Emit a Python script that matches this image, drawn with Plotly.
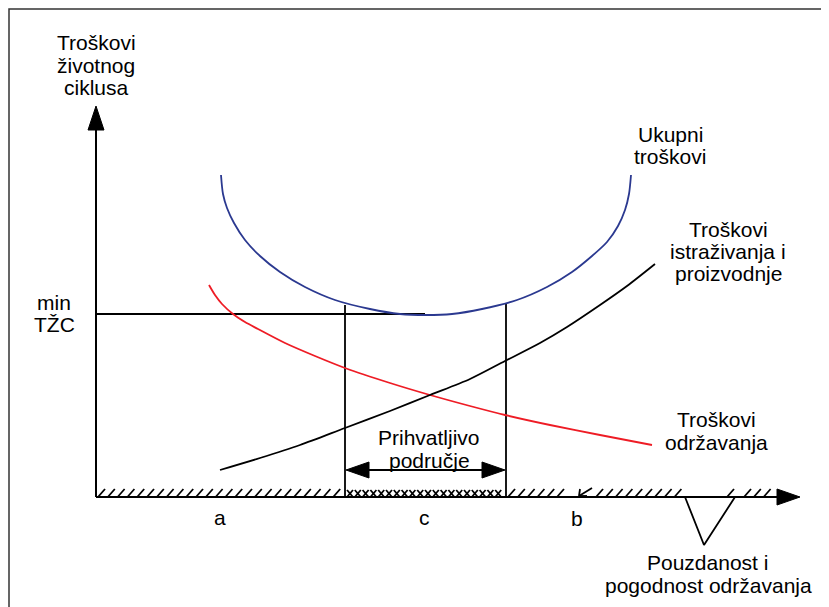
import plotly.graph_objects as go

# ---- data (diagram coordinates in page pixels: x to the right, y downward) ----
total_x = [221, 223, 227, 234, 245, 260, 280, 305, 335, 370, 400, 426, 452, 482, 517, 547, 572, 592, 607, 618, 625, 629, 631]
total_y = [175, 194, 208, 223, 240, 256, 272, 287, 300, 309, 314, 315, 314, 309, 300, 287, 272, 256, 242, 226, 210, 194, 175]

maint_x = [209, 215, 222, 233, 245, 258, 285, 315, 345, 390, 430, 470, 505, 550, 600, 652]
maint_y = [285, 295, 304, 314, 322, 329, 343, 356, 368, 383, 395, 406, 415, 425, 435, 445]

rnd_x = [220, 260, 300, 345, 390, 430, 470, 505, 540, 567, 600, 627, 655]
rnd_y = [470, 458, 445, 428, 411, 395, 379, 361, 343, 327, 305, 286, 264]

min_cost_y = 314
accept_left, accept_right = 345, 506
axis_y = 497
axis_x0 = 96

label_texts = ["Troškovi", "životnog", "ciklusa",
               "Ukupni", "troškovi",
               "Troškovi", "istraživanja i", "proizvodnje",
               "Troškovi", "održavanja",
               "Pouzdanost i", "pogodnost održavanja",
               "min", "TŽC",
               "Prihvatljivo", "područje",
               "a", "c", "b"]
label_x = [96, 96, 96,
           670, 670,
           728, 728, 728,
           716, 716,
           707, 708,
           54, 54,
           429, 429,
           220, 424, 577]
label_y = [42, 65, 87,
           134, 156,
           229, 251, 273,
           419, 442,
           562, 585,
           302, 324,
           437, 460,
           517, 517, 518]

FONT = "Liberation Sans, Arial, sans-serif"
PAGE_OFFSET = 8  # default body margin of the html page

fig = go.Figure()

def seg_trace(xs, ys, color="black", width=2):
    fig.add_trace(go.Scatter(x=xs, y=ys, mode="lines", hoverinfo="skip",
                             line=dict(color=color, width=width), showlegend=False))

def tri(xs, ys):
    fig.add_trace(go.Scatter(x=xs + [xs[0]], y=ys + [ys[0]], mode="lines", fill="toself",
                             fillcolor="black", line=dict(color="black", width=1),
                             hoverinfo="skip", showlegend=False))

# frame (only left/top visible)
seg_trace([9, 9, 840], [620, 9, 9], color="#333", width=1.5)

# axes
seg_trace([axis_x0, axis_x0], [axis_y, 126])
tri([88, 104, 96], [130, 130, 106])
seg_trace([axis_x0, 780], [axis_y, axis_y])
tri([777, 777, 800], [489, 505, 497])

# hatching along x axis
hx, hy = [], []
def slashes(x0, x1, step=9.8):
    x = x0
    while x <= x1:
        hx.extend([x, x + 7, None]); hy.extend([axis_y, axis_y - 8, None])
        x += step
slashes(98, 338)
slashes(508, 560)
slashes(596, 678)
slashes(727, 729)
slashes(744, 770)
# cross-hatch in acceptable region
x = 347
while x <= 498:
    hx.extend([x, x + 6, None, x, x + 6, None]); hy.extend([axis_y, axis_y - 7, None, axis_y - 7, axis_y, None])
    x += 7.8
# small "b" marker
hx.extend([592, 579, None, 579, 580, None, 579, 587, None])
hy.extend([488, 496, None, 496, 489, None, 496, 496, None])
seg_trace(hx, hy, width=1.8)

# triangle under axis
seg_trace([685, 704, 735], [axis_y, 545, axis_y], width=1.8)

# min TZC line and acceptable region verticals
seg_trace([axis_x0, 425], [min_cost_y, min_cost_y], width=1.8)
seg_trace([accept_left, accept_left], [305, axis_y], width=1.8)
seg_trace([accept_right, accept_right], [303, axis_y], width=1.8)

# double arrow
seg_trace([accept_left + 10, accept_right - 10], [470, 470], width=1.8)
tri([accept_left + 1, accept_left + 24, accept_left + 24], [470, 462, 478])
tri([accept_right - 1, accept_right - 24, accept_right - 24], [470, 462, 478])

# curves
fig.add_trace(go.Scatter(x=maint_x, y=maint_y, mode="lines",
                         line=dict(color="#ee1c25", width=1.8, shape="spline", smoothing=0.8),
                         hoverinfo="skip", showlegend=False))
fig.add_trace(go.Scatter(x=rnd_x, y=rnd_y, mode="lines",
                         line=dict(color="black", width=1.8, shape="spline", smoothing=0.8),
                         hoverinfo="skip", showlegend=False))
fig.add_trace(go.Scatter(x=total_x, y=total_y, mode="lines",
                         line=dict(color="#2b3990", width=1.8, shape="spline", smoothing=0.8),
                         hoverinfo="skip", showlegend=False))

for t, x, y in zip(label_texts, label_x, label_y):
    fig.add_annotation(x=x, y=y, xref="x", yref="y", text=t, showarrow=False,
                       xanchor="center", yanchor="middle",
                       font=dict(family=FONT, size=21, color="black"))

fig.update_layout(width=829, height=607, margin=dict(l=0, r=0, t=0, b=0),
                  paper_bgcolor="white", plot_bgcolor="white",
                  xaxis=dict(range=[PAGE_OFFSET, 829 + PAGE_OFFSET], visible=False, fixedrange=True),
                  yaxis=dict(range=[607 + PAGE_OFFSET, PAGE_OFFSET], visible=False, fixedrange=True),
                  showlegend=False)
fig.write_html("out.html")
